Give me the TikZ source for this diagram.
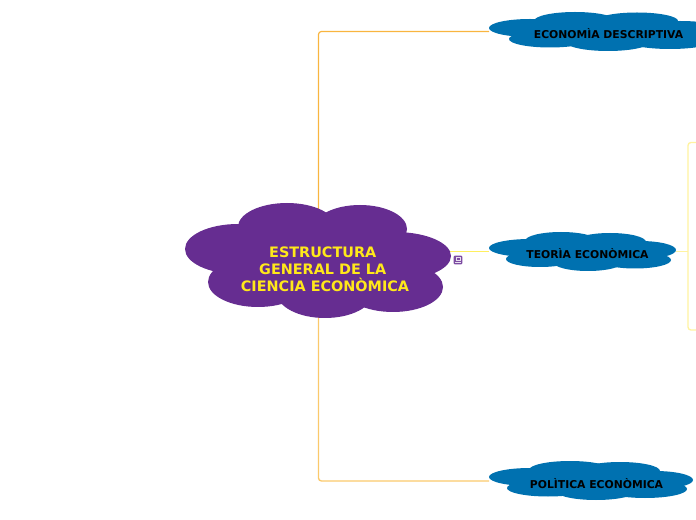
\documentclass[tikz,border=0pt]{standalone}
\usepackage{fontspec}
\setmainfont{DejaVu Sans}
\usetikzlibrary{backgrounds}
\definecolor{cpurple}{HTML}{662D91}
\definecolor{cblue}{HTML}{0071B0}
\definecolor{cyell}{HTML}{FFE81A}
\definecolor{corange}{HTML}{F9B53F}
\definecolor{corangeb}{HTML}{FBC96B}
\definecolor{cpale}{HTML}{FFF3A0}
\tikzset{x=0.75pt,y=-0.75pt,
  mainlabel/.style={font=\bfseries\fontsize{10.8}{12.6}\selectfont,text=cyell,align=center,inner sep=0pt},
  sublabel/.style={font=\bfseries\fontsize{8.1}{10}\selectfont,text=black,inner sep=0pt},
  branch/.style={line width=0.75pt,rounded corners=2.2pt},
}
\newcommand{\puff}[5]{\fill[#1] (#2,#3) ellipse [x radius=#4,y radius=#5];}
\begin{document}
\begin{tikzpicture}
\useasboundingbox (0,0) rectangle (696,520);
% central cloud
\puff{cpurple}{238}{249}{53}{25}
\puff{cpurple}{287}{227}{49}{24}
\puff{cpurple}{360}{229}{47}{24}
\puff{cpurple}{395}{256}{56}{24}
\puff{cpurple}{393}{287}{50}{25}
\puff{cpurple}{325}{293}{48}{25}
\puff{cpurple}{258}{282}{50}{25}
\puff{cpurple}{320}{260}{85}{30}
\node[mainlabel] (central) at (325,269.5) {ESTRUCTURA\kern3.4pt\\GENERAL DE LA\kern3.4pt\\CIENCIA ECONÒMICA};
% top cloud
\puff{cblue}{530}{28}{41}{9}
\puff{cblue}{575}{21}{41}{9}
\puff{cblue}{637}{21}{41}{8.5}
\puff{cblue}{680}{30}{45}{9}
\puff{cblue}{608}{42}{42}{9}
\puff{cblue}{550}{39}{41}{8.5}
\puff{cblue}{670}{40}{45}{9}
\puff{cblue}{600}{31}{60}{10}
\node[sublabel] (econ) at (608.5,34) {ECONOMÌA DESCRIPTIVA};
% middle cloud
\puff{cblue}{530}{248}{41}{9}
\puff{cblue}{561}{241}{36}{9}
\puff{cblue}{610}{242}{36}{9}
\puff{cblue}{640}{250}{36}{9}
\puff{cblue}{588}{262}{35}{9}
\puff{cblue}{540}{259}{34}{8}
\puff{cblue}{635}{260}{36}{8.5}
\puff{cblue}{585}{251}{50}{10}
\node[sublabel] (teor) at (587.5,254) {TEORÌA ECONÒMICA};
% bottom cloud
\puff{cblue}{530}{477}{41}{9}
\puff{cblue}{570}{470}{41}{9}
\puff{cblue}{620}{471}{40}{9}
\puff{cblue}{655}{480}{38}{9}
\puff{cblue}{596}{491}{40}{9}
\puff{cblue}{548}{488}{41}{8.5}
\puff{cblue}{645}{489}{42}{9}
\puff{cblue}{595}{480}{55}{10}
\node[sublabel] (poli) at (596.5,484) {POLÌTICA ECONÒMICA};
% anchors of the connectors
\coordinate (hub) at (318.5,251);
\coordinate (econL) at (489,31.5);
\coordinate (teorL) at (489,251);
\coordinate (poliL) at (489,481);
\coordinate (teorR) at (676,252);
\coordinate (brk) at (688,252);
\coordinate (brkT) at (696,142.5);
\coordinate (brkB) at (696,330);
\begin{scope}[on background layer]
\draw[branch,corange,line width=0.9pt] (hub) |- (econL);
\draw[branch,corangeb,line width=1pt] (hub) |- (poliL);
\draw[branch,cyell!70,line width=0.6pt] (hub) -- (teorL);
\draw[branch,cpale] (teorR) -- (brk);
\draw[branch,cpale,line width=1pt] (brkT) -| (brk) |- (brkB);
\end{scope}
% note icon
\node[fill=cpurple!85,rounded corners=1pt,minimum size=6.7pt,inner sep=0pt] (icon) at (458,260) {};
\draw[white!85!cpurple,line width=0.25pt] (456,257.5) rectangle (460,260.5);
\draw[white!85!cpurple,line width=0.35pt] (455,262.3) -- (461,262.3);
\end{tikzpicture}
\end{document}
